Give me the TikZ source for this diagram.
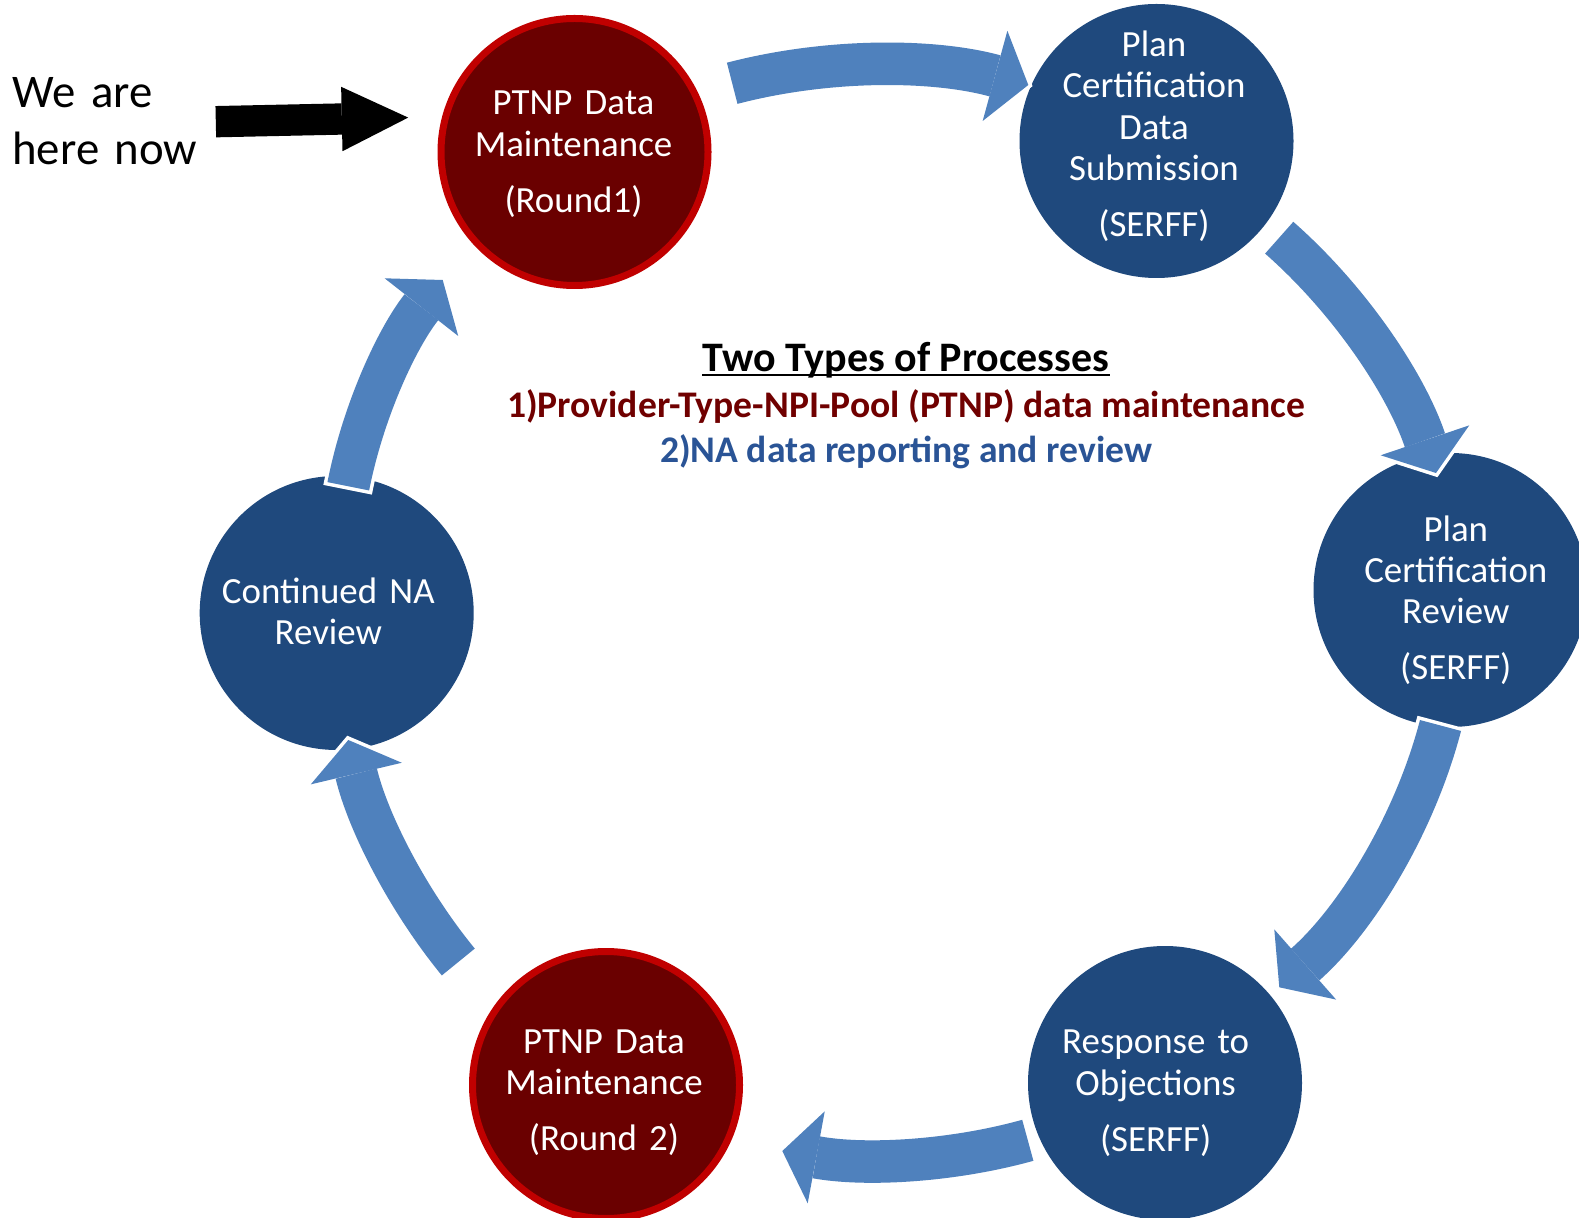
\documentclass[tikz,border=0pt]{standalone}
\usepackage{fontspec}
\setmainfont{Carlito}
\usetikzlibrary{arrows.meta}
\definecolor{navy}{RGB}{31,73,125}
\definecolor{flowblue}{RGB}{79,129,189}
\definecolor{maroonfill}{RGB}{106,0,0}
\definecolor{maroonrim}{RGB}{192,0,0}
\definecolor{legendred}{RGB}{112,0,0}
\definecolor{legendblue}{RGB}{42,84,150}
\tikzset{
  stage/.style={circle, inner sep=0pt, minimum size=137pt, fill=navy},
  ptnp/.style={circle, inner sep=0pt, minimum size=133.5pt, fill=maroonfill, draw=maroonrim, line width=3.5pt},
  stagetext/.style={text=white, font=\fontsize{18.45}{20.65}\selectfont, align=center,
    text width=130pt, inner sep=0pt, anchor=base},
  flowhalo/.style={draw=white, line width=24.75pt, looseness=0.85,
    shorten <=-1.75pt, shorten >=-2.2pt,
    -{Triangle[length=21.2pt, width=57.5pt, line width=0pt]}},
  flow/.style={draw=flowblue, line width=21.25pt, looseness=0.85,
    -{Triangle[length=17.25pt, width=46.75pt, line width=0pt]}},
  pointer/.style={draw=black, line width=15.65pt,
    -{Triangle[length=33.2pt, width=32.2pt, line width=0pt]}},
  legend/.style={anchor=base, inner sep=0pt, font=\bfseries\fontsize{18.8}{22}\selectfont},
}
\begin{document}
\begin{tikzpicture}[x=0.5pt, y=-0.5pt]
  \path[use as bounding box, fill=white] (0,0) rectangle (1579,1218);

  % process stages
  \node[ptnp]  (c1) at (574.5,152) {};
  \node[stage] (c2) at (1156.5,141) {};
  \node[stage] (c3) at (1450.5,590) {};
  \node[stage] (c4) at (1165,1083) {};
  \node[ptnp]  (c5) at (606,1085) {};
  \node[stage] (c6) at (336.7,613) {};

  \node[stagetext] (t1) at (573.5,115) {PTNP Data\\Maintenance\\[7.35pt](Round1)};
  \node[stagetext] (t2) at (1154,56.5) {Plan\\Certification\\Data\\Submission\\[7.35pt](SERFF)};
  \node[stagetext] (t3) at (1455.8,541.1) {Plan\\Certification\\Review\\[7.35pt](SERFF)};
  \node[stagetext] (t4) at (1155.7,1053.7) {Response to\\Objections\\[7.35pt](SERFF)};
  \node[stagetext] (t5) at (604,1053.6) {PTNP Data\\Maintenance\\[7.35pt](Round 2)};
  \node[stagetext] (t6) at (328.3,603.3) {Continued NA\\Review};

  % curved block arrows of the cycle
  \coordinate (a1s) at (732.2,83.3);   \coordinate (a1e) at (1028.3,85);
  \coordinate (a2s) at (1279.2,237.7); \coordinate (a2e) at (1436,473);
  \coordinate (a3s) at (1440.5,725.5); \coordinate (a3e) at (1279.3,987.3);
  \coordinate (a4s) at (1027.8,1140.3); \coordinate (a4e) at (782.3,1151);
  \coordinate (a5s) at (458.3,962);    \coordinate (a5e) at (348.3,740);
  \coordinate (a6s) at (348.3,486.3);  \coordinate (a6e) at (442.7,280);

  \foreach \s/\e/\b in {a1s/a1e/15, a2s/a2e/15, a3s/a3e/17, a4s/a4e/13, a5s/a5e/13, a6s/a6e/13.5}{
    \draw[flowhalo] (\s) to[bend left=\b] (\e);
    \draw[flow] (\s) to[bend left=\b] (\e);
  }

  % "you are here" marker
  \node[anchor=base west, inner sep=0pt, text width=110pt, align=left,
        font=\fontsize{23.4}{28.85}\selectfont] (here) at (12,107.3) {We are\\here now};
  \coordinate (ptail) at (215.8,121.7);
  \coordinate (ptip) at (408.2,117.6);
  \draw[pointer] (ptail) -- (ptip);

  % legend
  \node[legend, font=\bfseries\fontsize{21}{24}\selectfont] (title) at (906,371.5) {Two Types of Processes};
  \draw[line width=1pt] ([yshift=-1.8pt]title.base west) -- ([yshift=-1.8pt]title.base east);
  \node[legend, text=legendred] (kind1) at (906,417.5) {1)Provider-Type-NPI-Pool (PTNP) data maintenance};
  \node[legend, text=legendblue] (kind2) at (906,463) {2)NA data reporting and review};
\end{tikzpicture}
\end{document}
